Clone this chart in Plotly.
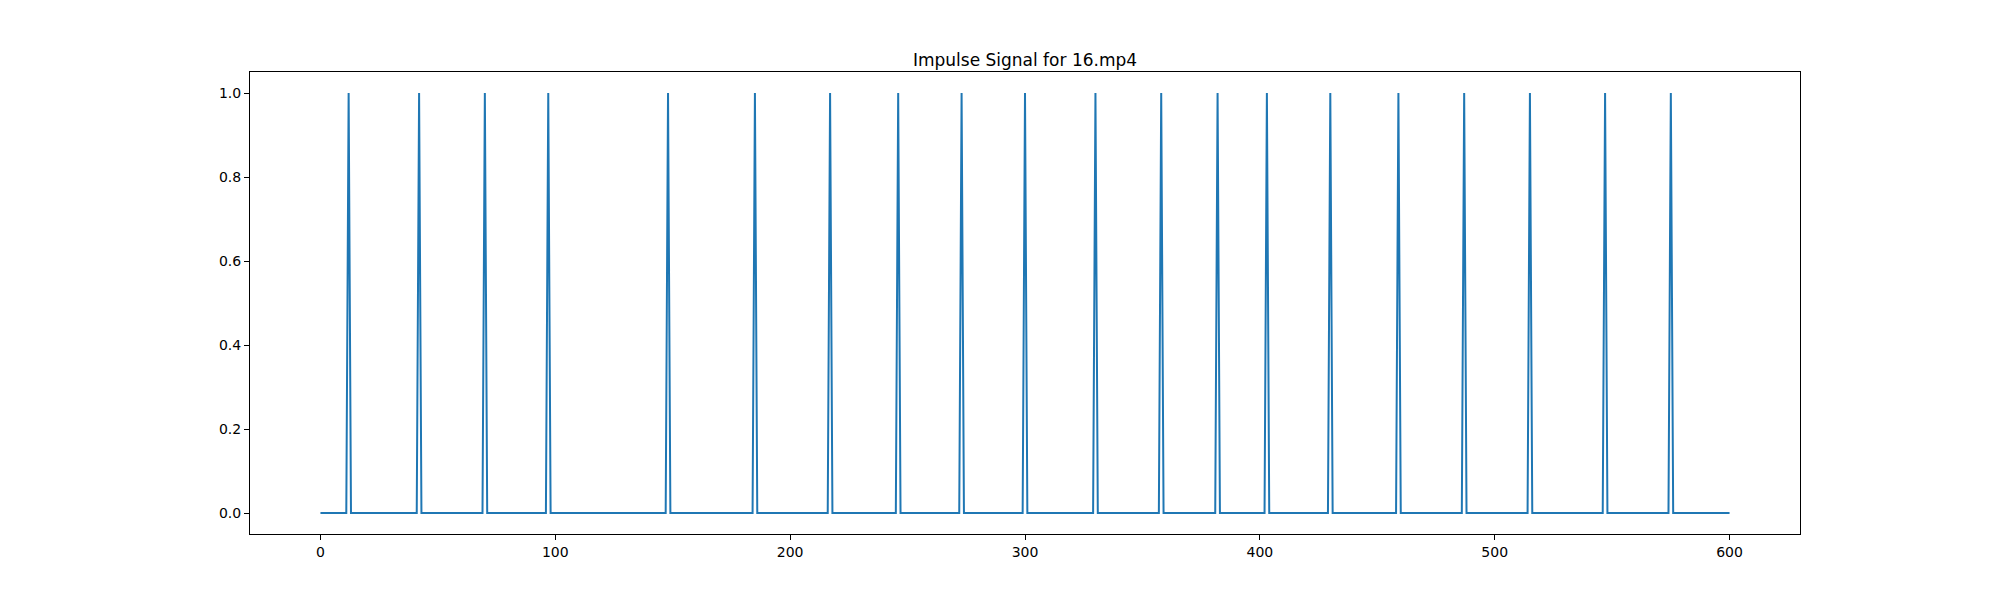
import plotly.graph_objs as go

# frames where an impulse occurs
spike_frames = [12, 42, 70, 97, 148, 185, 217, 246, 273, 300,
                330, 358, 382, 403, 430, 459, 487, 515, 547, 575]
n_frames = 601

frames = list(range(n_frames))
signal = [0] * n_frames
for f in spike_frames:
    signal[f] = 1

fig = go.Figure(
    go.Scatter(
        x=frames,
        y=signal,
        mode="lines",
        line=dict(color="#1f77b4", width=2),
    )
)

axis_style = dict(
    showgrid=False,
    zeroline=False,
    showline=True,
    linecolor="black",
    linewidth=1,
    mirror=True,
    ticks="outside",
    ticklen=5,
    tickwidth=1,
    tickcolor="black",
    tickfont=dict(family="DejaVu Sans", size=14, color="black"),
)

# page body has an 8px margin, so size and margins are shifted to compensate
fig.update_layout(
    width=1992,
    height=592,
    template="simple_white",
    plot_bgcolor="white",
    paper_bgcolor="white",
    showlegend=False,
    margin=dict(l=242, r=200, t=64, b=66),
    xaxis=dict(axis_style, range=[-30, 630], tickvals=[0, 100, 200, 300, 400, 500, 600]),
    yaxis=dict(axis_style, range=[-0.05, 1.05], tickvals=[0, 0.2, 0.4, 0.6, 0.8, 1.0],
               tickformat=".1f"),
    font=dict(family="DejaVu Sans", color="black", size=14),
    title={
        "text": "Impulse Signal for 16.mp4",
        "font": {"family": "DejaVu Sans", "size": 17, "color": "black"},
        "x": 0.5,
        "xanchor": "center",
        "xref": "paper",
        "yref": "paper",
        "y": 1,
        "yanchor": "bottom",
        "pad": {"b": 6},
    },
)

fig.write_html("out.html")
